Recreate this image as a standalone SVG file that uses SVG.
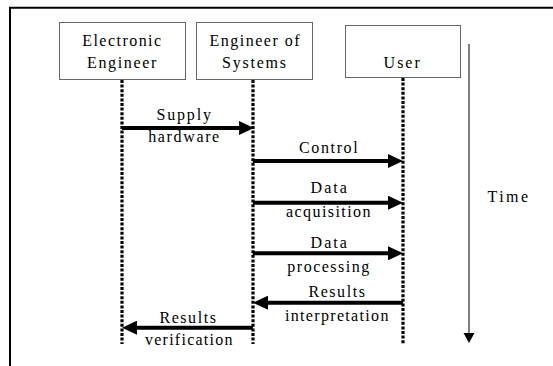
<svg xmlns="http://www.w3.org/2000/svg" width="553" height="366" viewBox="0 0 553 366">
  <defs>
    <marker id="head" markerUnits="userSpaceOnUse" markerWidth="15" markerHeight="14" refX="3" refY="7" orient="auto">
      <path d="M0,0 L15,7 L0,14 z" fill="#000"/>
    </marker>
  </defs>

  <!-- frame (top and left edges) -->
  <g stroke="#000" stroke-width="2" fill="none">
    <line x1="9" y1="7.8" x2="553" y2="7.8"/>
    <line x1="10" y1="7" x2="10" y2="366"/>
  </g>

  <!-- actor boxes -->
  <g fill="#fff" stroke="#666" stroke-width="1">
    <rect id="electronic-engineer-box" x="59.5" y="22.5" width="126" height="57"/>
    <rect id="engineer-of-systems-box" x="196.5" y="22.5" width="116" height="57"/>
    <rect id="user-box" x="345.5" y="25.5" width="115" height="52"/>
  </g>

  <!-- lifelines -->
  <g stroke="#000" stroke-width="3.2" stroke-dasharray="3 1.6" fill="none">
    <line x1="122" y1="80" x2="122" y2="344"/>
    <line x1="253" y1="80" x2="253" y2="344"/>
    <line x1="403" y1="78" x2="403" y2="344"/>
  </g>

  <!-- time axis -->
  <g id="time-axis">
    <line x1="469" y1="44" x2="469" y2="334" stroke="#000" stroke-width="1"/>
    <path d="M463.5,333 L474.5,333 L469,343 z" fill="#000"/>
  </g>

  <!-- messages -->
  <g id="connectors" stroke="#000" stroke-width="4" fill="none" marker-end="url(#head)">
    <line x1="122" y1="128" x2="242" y2="128"/>
    <line x1="253" y1="161" x2="391" y2="161"/>
    <line x1="253" y1="202.7" x2="391" y2="202.7"/>
    <line x1="253" y1="253.3" x2="391" y2="253.3"/>
    <line x1="403" y1="302.7" x2="265" y2="302.7"/>
    <line x1="253" y1="327.7" x2="134" y2="327.7"/>
  </g>

  <!-- all labels: a slightly widened serif -->
  <text font-family="'Liberation Serif'" font-size="16" x="82.2" y="46" textLength="78.9">Electronic</text>
  <text font-family="'Liberation Serif'" font-size="16" x="87" y="68.3" textLength="69.3">Engineer</text>
  <text font-family="'Liberation Serif'" font-size="16" x="209.5" y="46" textLength="90">Engineer of</text>
  <text font-family="'Liberation Serif'" font-size="16" x="222" y="68.3" textLength="64">Systems</text>
  <text font-family="'Liberation Serif'" font-size="16" x="383.6" y="67.8" textLength="36.2">User</text>
  <text font-family="'Liberation Serif'" font-size="16" x="487.5" y="202" textLength="40.5">Time</text>
  <text font-family="'Liberation Serif'" font-size="16" x="156.5" y="119.5" textLength="54.4">Supply</text>
  <text font-family="'Liberation Serif'" font-size="16" x="148.2" y="141.5" textLength="71">hardware</text>
  <text font-family="'Liberation Serif'" font-size="16" x="299" y="152.7" textLength="58.7">Control</text>
  <text font-family="'Liberation Serif'" font-size="16" x="310.6" y="193.3" textLength="36.2">Data</text>
  <text font-family="'Liberation Serif'" font-size="16" x="286" y="216.5" textLength="84.5">acquisition</text>
  <text font-family="'Liberation Serif'" font-size="16" x="310.6" y="248.3" textLength="36.2">Data</text>
  <text font-family="'Liberation Serif'" font-size="16" x="287.3" y="271.5" textLength="82">processing</text>
  <text font-family="'Liberation Serif'" font-size="16" x="308.4" y="297.3" textLength="56.5">Results</text>
  <text font-family="'Liberation Serif'" font-size="16" x="285" y="320.7" textLength="103.4">interpretation</text>
  <text font-family="'Liberation Serif'" font-size="16" x="159.4" y="323.3" textLength="56.5">Results</text>
  <text font-family="'Liberation Serif'" font-size="16" x="145" y="345" textLength="87.5">verification</text>
</svg>
